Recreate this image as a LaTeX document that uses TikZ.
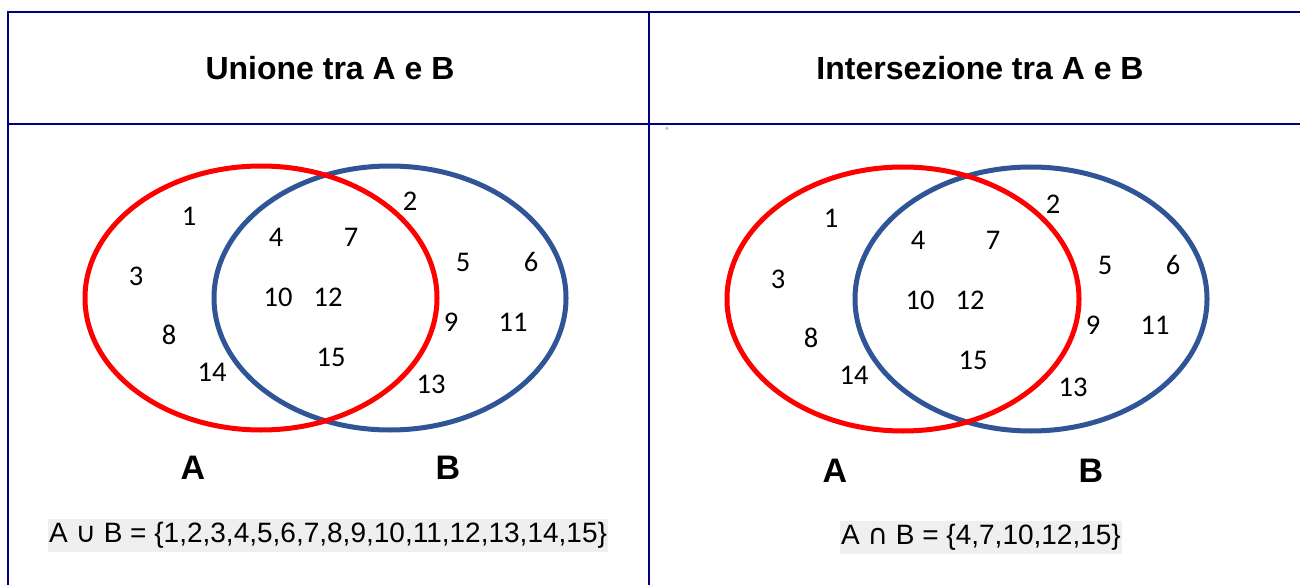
\documentclass[tikz,border=0pt]{standalone}
\usepackage{fontspec}
\setmainfont{Liberation Sans}
\newfontfamily\numfont{Carlito}
\newfontfamily\symfont{DejaVu Sans}
\definecolor{tblblue}{HTML}{000080}
\definecolor{setred}{HTML}{FF0000}
\definecolor{setblue}{HTML}{2F5597}
\definecolor{boxgray}{HTML}{EFEFEF}
\tikzset{
  tbl/.style={draw=tblblue, line width=2pt},
  redset/.style={draw=setred, line width=5pt},
  blueset/.style={draw=setblue, line width=5pt},
  num/.style={inner sep=0pt, font=\numfont\fontsize{28.5}{31}\selectfont},
  ttl/.style={inner sep=0pt, font=\bfseries\fontsize{32}{36}\selectfont},
  setlbl/.style={inner sep=0pt, anchor=base, font=\bfseries\fontsize{34}{38}\selectfont},
  formula/.style={fill=boxgray, inner xsep=1pt, inner ysep=0pt, minimum height=33pt, font=\fontsize{28}{31}\selectfont}
}
\begin{document}
\begin{tikzpicture}[x=1pt,y=-1pt]
\useasboundingbox (0,0) rectangle (1300,585);
% table
\coordinate (tl) at (8,12);
\coordinate (tr) at (1300,12);
\coordinate (bl) at (8,585);
\coordinate (hl) at (8,124);
\coordinate (hr) at (1300,124);
\coordinate (mt) at (649,12);
\coordinate (mb) at (649,585);
\draw[tbl] (bl) -- (tl) -- (tr);
\draw[tbl] (hl) -- (hr);
\draw[tbl] (mt) -- (mb);
% titles
\node[ttl] (t1) at (330,68) {Unione tra A e B};
\node[ttl] (t2) at (980,68) {Intersezione tra A e B};
\node[inner sep=0pt, text=gray, font=\fontsize{5}{6}\selectfont] (mark) at (667,129) {A};
% left venn
\draw[blueset] (390,298) ellipse [x radius=176, y radius=132];
\draw[redset] (261,298) ellipse [x radius=176, y radius=132];
\node[num] (l1) at (189,216) {1};
\node[num] (l2) at (410,201) {2};
\node[num] (l4) at (276,237) {4};
\node[num] (l7) at (351,237) {7};
\node[num] (l5) at (463,262) {5};
\node[num] (l6) at (531,262) {6};
\node[num] (l3) at (136,276) {3};
\node[num] (l10) at (278,297) {10};
\node[num] (l12) at (328,297) {12};
\node[num] (l9) at (451,322) {9};
\node[num] (l11) at (513,322) {11};
\node[num] (l8) at (169,335) {8};
\node[num] (l15) at (331,357) {15};
\node[num] (l14) at (212,372) {14};
\node[num] (l13) at (431,384) {13};
\node[setlbl] (lA) at (193,479) {A};
\node[setlbl] (lB) at (448,479) {B};
\node[formula] (lf) at (328,535) {A {\symfont ∪} B = \{1,2,3,4,5,6,7,8,9,10,11,12,13,14,15\}};
% right venn
\draw[blueset] (1031,299) ellipse [x radius=176, y radius=132];
\draw[redset] (903,299) ellipse [x radius=176, y radius=132];
\node[num] (r1) at (831,218) {1};
\node[num] (r2) at (1053,204) {2};
\node[num] (r4) at (918,240) {4};
\node[num] (r7) at (993,240) {7};
\node[num] (r5) at (1105,265) {5};
\node[num] (r6) at (1173,265) {6};
\node[num] (r3) at (778,279) {3};
\node[num] (r10) at (920,300) {10};
\node[num] (r12) at (970,300) {12};
\node[num] (r9) at (1093,325) {9};
\node[num] (r11) at (1155,325) {11};
\node[num] (r8) at (811,338) {8};
\node[num] (r15) at (973,360) {15};
\node[num] (r14) at (854,375) {14};
\node[num] (r13) at (1073,387) {13};
\node[setlbl] (rA) at (835,482) {A};
\node[setlbl] (rB) at (1091,482) {B};
\node[formula] (rf) at (981,537) {A {\symfont ∩} B = \{4,7,10,12,15\}};
\end{tikzpicture}
\end{document}
